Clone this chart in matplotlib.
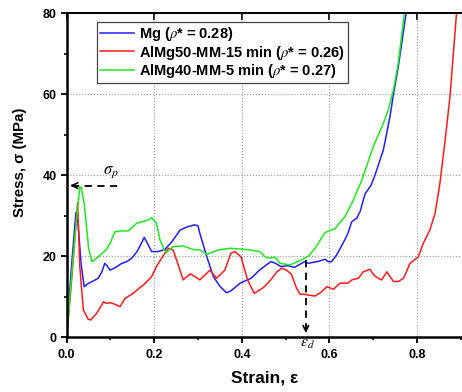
import matplotlib
matplotlib.use("Agg")
import matplotlib.pyplot as plt
from matplotlib.ticker import MultipleLocator

plt.rcParams["font.family"] = ["Liberation Sans", "DejaVu Sans"]
plt.rcParams["mathtext.fontset"] = "stix"

# --- data (strain, stress in MPa) ---
mg_strain = [0, 0.010, 0.021, 0.026, 0.033, 0.040, 0.049, 0.060, 0.072, 0.080,
             0.087, 0.093, 0.099, 0.112, 0.126, 0.137, 0.148, 0.160, 0.170, 0.177,
             0.185, 0.194, 0.209, 0.224, 0.240, 0.259, 0.275, 0.293, 0.300, 0.304,
             0.320, 0.335, 0.350, 0.365, 0.375, 0.396, 0.421, 0.440, 0.466, 0.475,
             0.489, 0.505, 0.520, 0.543, 0.552, 0.575, 0.590, 0.597, 0.605, 0.616,
             0.635, 0.642, 0.651, 0.662, 0.670, 0.681, 0.695, 0.704, 0.723, 0.738,
             0.746, 0.757, 0.775, 0.778]
mg_stress = [0, 16, 30.7, 28, 18, 12.4, 13.2, 13.8, 14.5, 16,
             18.2, 17.5, 16.5, 17.2, 18.2, 18.6, 19.4, 21, 23, 24.6,
             23, 21.1, 21.1, 21.6, 23.5, 26.4, 27.2, 27.7, 27.4, 25.6,
             19.8, 14.9, 12.5, 10.9, 11.4, 13.3, 14.5, 16.5, 18.6, 18.3,
             17.4, 17.6, 17.2, 18.6, 18.2, 18.7, 19.2, 18.6, 18.6, 20.2,
             24.0, 25.6, 28.5, 29.3, 31, 35.3, 37.5, 40.0, 46.2, 54.4,
             59.9, 66.7, 80, 82]

al50_strain = [0, 0.012, 0.025, 0.030, 0.038, 0.049, 0.055, 0.068, 0.080, 0.084,
               0.091, 0.100, 0.114, 0.122, 0.133, 0.152, 0.165, 0.175, 0.194, 0.205,
               0.221, 0.232, 0.243, 0.251, 0.266, 0.282, 0.293, 0.304, 0.327, 0.342,
               0.361, 0.375, 0.384, 0.398, 0.413, 0.428, 0.441, 0.451, 0.466, 0.480,
               0.491, 0.502, 0.513, 0.525, 0.533, 0.544, 0.567, 0.580, 0.594, 0.609,
               0.624, 0.642, 0.651, 0.666, 0.677, 0.692, 0.704, 0.719, 0.731, 0.746,
               0.757, 0.769, 0.784, 0.803, 0.814, 0.829, 0.841, 0.852, 0.864, 0.875,
               0.890, 0.892]
al50_stress = [0, 15, 33.2, 17.4, 6.7, 4.4, 4.2, 5.8, 7.9, 8.7,
               8.3, 8.5, 7.9, 7.5, 9.5, 10.8, 12.0, 12.8, 14.9, 17.4,
               20.2, 21.9, 21.5, 19.0, 14.1, 15.6, 14.9, 14.1, 16.5, 14.5,
               16.5, 20.7, 21.1, 19.8, 14.1, 10.8, 11.6, 12.4, 14.1, 16.1,
               17.0, 16.5, 15.5, 12.0, 10.6, 10.5, 10.1, 11.0, 12.4, 11.8,
               13.3, 13.3, 14.1, 14.5, 16.1, 16.7, 15.0, 14.1, 16.1, 13.7,
               13.7, 14.5, 18.2, 19.8, 23.1, 26.4, 30.5, 37.9, 48.6, 59.3,
               80, 82]

al40_strain = [0, 0.015, 0.025, 0.030, 0.033, 0.040, 0.050, 0.058, 0.066, 0.076,
               0.090, 0.099, 0.110, 0.126, 0.141, 0.160, 0.186, 0.194, 0.205, 0.213,
               0.223, 0.228, 0.243, 0.266, 0.289, 0.304, 0.320, 0.346, 0.373, 0.400,
               0.418, 0.441, 0.453, 0.460, 0.476, 0.487, 0.510, 0.536, 0.552, 0.567,
               0.590, 0.613, 0.635, 0.651, 0.674, 0.700, 0.723, 0.734, 0.746, 0.757,
               0.771, 0.775]
al40_stress = [0, 20, 32, 37, 37.0, 33, 22, 18.6, 19.2, 20.2,
               21.5, 23.1, 26.0, 26.2, 26.2, 28.1, 28.9, 29.5, 28.1, 24.0,
               21.5, 20.9, 22.3, 22.5, 21.6, 21.5, 20.4, 21.5, 21.9, 21.7,
               21.5, 21.1, 19.8, 19.5, 19.7, 18.2, 17.8, 19.0, 20.0, 21.9,
               25.8, 26.8, 29.7, 33.0, 38.8, 47.0, 52.8, 56.0, 61.0, 67.6,
               80, 82]

labels = [r"Mg ($\rho$* = 0.28)",
          r"AlMg50-MM-15 min ($\rho$* = 0.26)",
          r"AlMg40-MM-5 min ($\rho$* = 0.27)"]
colors = ["#1f1fff", "#ff1a1a", "#1fe81f"]

sigma_p = 37.4      # plateau-peak stress marker
eps_d = 0.546       # densification strain marker
eps_d_stress = 19.0

fig = plt.figure(figsize=(4.62, 3.92), dpi=100)
ax = fig.add_axes([0.1443, 0.1403, 0.8557, 0.8265])

ax.plot(mg_strain, mg_stress, color=colors[0], lw=1.1, label=labels[0])
ax.plot(al50_strain, al50_stress, color=colors[1], lw=1.1, label=labels[1])
ax.plot(al40_strain, al40_stress, color=colors[2], lw=1.1, label=labels[2])

ax.set_xlim(0, 0.9025)
ax.set_ylim(0, 80)
ax.xaxis.set_major_locator(MultipleLocator(0.2))
ax.xaxis.set_minor_locator(MultipleLocator(0.1))
ax.yaxis.set_major_locator(MultipleLocator(20))
ax.yaxis.set_minor_locator(MultipleLocator(10))
ax.set_xticks([0.0, 0.2, 0.4, 0.6, 0.8])
ax.set_xticklabels(["0.0", "0.2", "0.4", "0.6", "0.8"])

ax.grid(True, which="major", color="#999999", ls=":", lw=0.8)
ax.tick_params(which="major", direction="out", length=4.3, width=1.3,
               labelsize=9, pad=3)
ax.tick_params(which="minor", direction="out", length=2.5, width=1.2)
ax.tick_params(axis="x", pad=4)
for lbl in ax.get_xticklabels() + ax.get_yticklabels():
    lbl.set_fontweight("bold")

for side in ["left", "bottom"]:
    ax.spines[side].set_linewidth(1.8)
ax.spines["top"].set_linewidth(1.3)
ax.spines["right"].set_visible(False)

top = ax.secondary_xaxis("top")
top.set_xticks([0.0, 0.2, 0.4, 0.6, 0.8])
top.tick_params(direction="in", length=5, width=1.3, labeltop=False)
top.spines["top"].set_linewidth(1.3)

ax.set_xlabel("Strain, ε", fontsize=12.5, fontweight="bold", labelpad=7)
ax.set_ylabel("Stress, σ (MPa)", fontsize=10.8, fontweight="bold")
ax.yaxis.set_label_coords(-0.10, 0.54)

leg = ax.legend(loc="upper left", bbox_to_anchor=(0.077, 0.972),
                borderaxespad=0, fancybox=False, edgecolor="#444444",
                framealpha=1, handlelength=2.3, handletextpad=0.35,
                labelspacing=0.02, borderpad=0.22,
                prop={"weight": "bold", "size": 10.5})
leg.get_frame().set_linewidth(0.9)

# sigma_p marker: dashed horizontal arrow to the stress axis
ax.plot([0.012, 0.12], [sigma_p, sigma_p], color="black", ls="--",
        lw=1.3, dashes=(4, 3))
ax.annotate("", xy=(0.002, sigma_p), xytext=(0.02, sigma_p),
            arrowprops=dict(arrowstyle="->", color="black", lw=1.2))
ax.text(0.1, 40.6, r"$\sigma_p$", fontsize=12, ha="center", va="center")

# eps_d marker: dashed vertical arrow to the strain axis
ax.plot([eps_d, eps_d], [eps_d_stress, 2.0], color="black", ls="--",
        lw=1.3, dashes=(4, 3))
ax.annotate("", xy=(eps_d, 0.3), xytext=(eps_d, 3.5),
            arrowprops=dict(arrowstyle="->", color="black", lw=1.2))
ax.text(eps_d + 0.003, -1.6, r"$\varepsilon_d$", fontsize=11.5,
        ha="center", va="center", clip_on=False)

fig.savefig("out.png", dpi=100)
